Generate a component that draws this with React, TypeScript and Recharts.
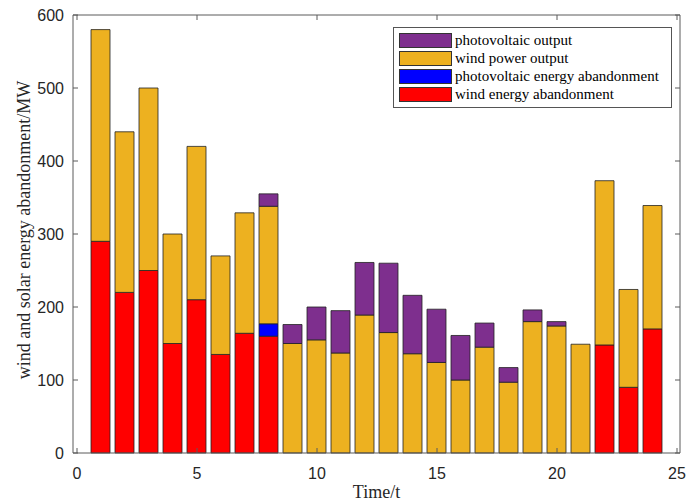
import { BarChart, Bar, XAxis, YAxis, Legend, ReferenceLine } from "recharts";

const hours = [1, 2, 3, 4, 5, 6, 7, 8, 9, 10, 11, 12, 13, 14, 15, 16, 17, 18, 19, 20, 21, 22, 23, 24];
const windAbandon = [290, 220, 250, 150, 210, 135, 164, 160, 0, 0, 0, 0, 0, 0, 0, 0, 0, 0, 0, 0, 0, 148, 90, 170];
const pvAbandon = [0, 0, 0, 0, 0, 0, 0, 17, 0, 0, 0, 0, 0, 0, 0, 0, 0, 0, 0, 0, 0, 0, 0, 0];
const windOutput = [290, 220, 250, 150, 210, 135, 165, 161, 150, 155, 137, 189, 165, 136, 124, 100, 145, 97, 180, 174, 149, 225, 134, 169];
const pvOutput = [0, 0, 0, 0, 0, 0, 0, 17, 26, 45, 58, 72, 95, 80, 73, 61, 33, 20, 16, 6, 0, 0, 0, 0];
const xTicks = [0, 5, 10, 15, 20, 25];
const yTicks = [0, 100, 200, 300, 400, 500, 600];

const data = hours.map((t, i) => ({
    t,
    windAbandon: windAbandon[i],
    pvAbandon: pvAbandon[i],
    windOutput: windOutput[i],
    pvOutput: pvOutput[i],
}));

const legendItems = [
    { name: "photovoltaic output", color: "#7E2F8E" },
    { name: "wind power output", color: "#EDB120" },
    { name: "photovoltaic energy abandonment", color: "#0000FF" },
    { name: "wind energy abandonment", color: "#FF0000" },
];

// plot box (fixed by margins / axis sizes below)
const PL = 73;
const PR = 680;
const PT = 15;
const PB = 453;
const AXIS = "#5a5a5a";
const TXT = "#262626";
const SANS = "'Liberation Sans', Arial, sans-serif";
const SERIF = "'Liberation Serif', 'Times New Roman', serif";

const YTick = (props: any) => {
    const { x, y, payload } = props;
    return (
        <g>
            <line x1={PL} x2={PL + 5} y1={y} y2={y} stroke={AXIS} />
            <line x1={PR} x2={PR - 5} y1={y} y2={y} stroke={AXIS} />
            <text x={x} y={y + 6} textAnchor="end" fontSize={16} fill={TXT} fontFamily={SANS}>
                {payload.value}
            </text>
        </g>
    );
};

const XTick = (props: any) => {
    const { x, y, payload } = props;
    return (
        <g>
            <line x1={x} x2={x} y1={PB} y2={PB - 5} stroke={AXIS} />
            <line x1={x} x2={x} y1={PT} y2={PT + 5} stroke={AXIS} />
            <text x={x} y={y + 13} textAnchor="middle" fontSize={16} fill={TXT} fontFamily={SANS}>
                {payload.value}
            </text>
        </g>
    );
};

const YLabel = (props: any) => {
    const { viewBox } = props;
    const cx = 24;
    const cy = viewBox.y + viewBox.height / 2 - 4;
    return (
        <text
            x={cx}
            y={cy}
            transform={`rotate(-90 ${cx} ${cy})`}
            textAnchor="middle"
            dominantBaseline="central"
            fontSize={18}
            fill={TXT}
            fontFamily={SERIF}
        >
            wind and solar energy abandonment/MW
        </text>
    );
};

const LegendBox = () => (
    <div
        style={{
            border: "1px solid #555",
            background: "#fff",
            padding: "3px 12px 4px 5px",
            fontFamily: SERIF,
            fontSize: 15,
            color: "#000",
        }}
    >
        {legendItems.map((it) => (
            <div key={it.name} style={{ display: "flex", alignItems: "center", height: 18 }}>
                <span
                    style={{
                        display: "inline-block",
                        width: 51,
                        height: 13,
                        background: it.color,
                        border: "1px solid #333",
                        marginRight: 3,
                    }}
                />
                <span>{it.name}</span>
            </div>
        ))}
    </div>
);

export default function App() {
    return (
        <div style={{ position: "absolute", left: 0, top: 0, width: 689, height: 503, background: "#fff" }}>
            <BarChart
                width={689}
                height={503}
                data={data}
                margin={{ top: PT, right: 689 - PR, left: 0, bottom: 0 }}
            >
                <XAxis
                    dataKey="t"
                    type="number"
                    domain={[-0.167, 25.125]}
                    ticks={xTicks}
                    height={50}
                    tickSize={0}
                    tickMargin={13}
                    tickLine={false}
                    axisLine={{ stroke: AXIS }}
                    tick={<XTick />}
                    label={{ value: "Time/t", position: "insideBottom", offset: 5, fontSize: 18, fill: TXT, fontFamily: SERIF }}
                />
                <YAxis
                    type="number"
                    domain={[0, 600]}
                    ticks={yTicks}
                    width={PL}
                    tickSize={0}
                    tickMargin={9}
                    tickLine={false}
                    axisLine={{ stroke: AXIS }}
                    tick={<YTick />}
                    label={<YLabel />}
                />
                <ReferenceLine y={600} stroke={AXIS} />
                <ReferenceLine x={25.125} stroke={AXIS} />
                <Legend
                    layout="horizontal"
                    verticalAlign="middle"
                    align="center"
                    content={<LegendBox />}
                    wrapperStyle={{ position: "absolute", left: 393, top: 27, width: "auto" }}
                />
                <Bar dataKey="windAbandon" stackId="s" fill="#FF0000" stroke="#222" strokeWidth={0.8} barSize={19} isAnimationActive={false} />
                <Bar dataKey="pvAbandon" stackId="s" fill="#0000FF" stroke="#222" strokeWidth={0.8} barSize={19} isAnimationActive={false} />
                <Bar dataKey="windOutput" stackId="s" fill="#EDB120" stroke="#222" strokeWidth={0.8} barSize={19} isAnimationActive={false} />
                <Bar dataKey="pvOutput" stackId="s" fill="#7E2F8E" stroke="#222" strokeWidth={0.8} barSize={19} isAnimationActive={false} />
            </BarChart>
        </div>
    );
}
